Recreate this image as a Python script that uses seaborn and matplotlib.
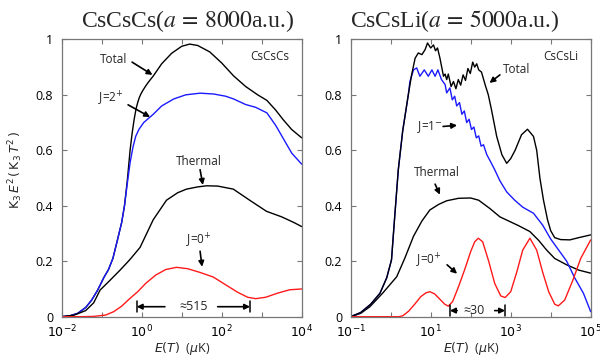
import numpy as np
import pandas as pd
import matplotlib
matplotlib.use("Agg")
import matplotlib.pyplot as plt
import seaborn as sns
from matplotlib.ticker import FixedLocator, FixedFormatter

# ---------------- data (x = log10 E in uK) ----------------
# CsCsCs panel
csc_total_logE = [-2, -1.8, -1.6, -1.4, -1.25, -1.1, -0.95, -0.83, -0.72, -0.6, -0.5, -0.43, -0.36, -0.29,
                  -0.24, -0.19, -0.14, -0.1, -0.06, -0.02, 0.03, 0.1, 0.18, 0.29, 0.5, 0.75, 1.0, 1.2, 1.4,
                  1.7, 2.0, 2.3, 2.6, 2.9, 3.13, 3.35, 3.54, 3.75, 4.0]
csc_total = [0.0, 0.003, 0.012, 0.033, 0.06, 0.096, 0.14, 0.17, 0.21, 0.28, 0.34, 0.4, 0.49, 0.6,
             0.66, 0.71, 0.75, 0.772, 0.79, 0.803, 0.816, 0.832, 0.848, 0.868, 0.912, 0.95, 0.975, 0.983,
             0.978, 0.955, 0.915, 0.868, 0.83, 0.8, 0.78, 0.745, 0.71, 0.675, 0.645]

csc_j2_logE = [-2, -1.8, -1.6, -1.4, -1.25, -1.1, -0.95, -0.83, -0.72, -0.6, -0.5, -0.43, -0.36, -0.29,
               -0.22, -0.15, -0.07, 0.05, 0.29, 0.5, 0.8, 1.1, 1.46, 1.8, 2.1, 2.3, 2.6, 2.85, 3.13, 3.35,
               3.55, 3.75, 4.0]
csc_j2 = [0.0, 0.003, 0.012, 0.033, 0.06, 0.096, 0.14, 0.17, 0.21, 0.28, 0.34, 0.4, 0.48, 0.555,
          0.61, 0.65, 0.675, 0.70, 0.73, 0.76, 0.785, 0.80, 0.806, 0.803, 0.795, 0.785, 0.765, 0.755,
          0.735, 0.69, 0.64, 0.59, 0.55]

csc_th_logE = [-2, -1.7, -1.4, -1.2, -1.04, -0.8, -0.54, -0.3, -0.04, 0.29, 0.62, 0.9, 1.12, 1.4, 1.62,
               1.9, 2.29, 2.7, 3.12, 3.5, 3.8, 4.0]
csc_th = [0.0, 0.005, 0.022, 0.05, 0.096, 0.13, 0.168, 0.205, 0.25, 0.35, 0.42, 0.447, 0.46, 0.468,
          0.472, 0.471, 0.46, 0.42, 0.38, 0.36, 0.34, 0.325]

csc_j0_logE = [-2, -1.5, -1.2, -0.9, -0.7, -0.5, -0.3, -0.1, 0.1, 0.35, 0.6, 0.87, 1.15, 1.45, 1.79,
               2.1, 2.4, 2.65, 2.85, 3.1, 3.4, 3.7, 4.0]
csc_j0 = [0.0, 0.0, 0.001, 0.006, 0.018, 0.038, 0.065, 0.09, 0.12, 0.15, 0.17, 0.178, 0.173, 0.16,
          0.143, 0.115, 0.088, 0.07, 0.065, 0.07, 0.085, 0.097, 0.1]

# CsCsLi panel
csl_total_logE = [-1, -0.75, -0.5, -0.27, -0.1, 0.02, 0.1, 0.19, 0.3, 0.44, 0.52, 0.61, 0.69, 0.78, 0.86,
                  0.92, 1.0, 1.07, 1.12, 1.17, 1.23, 1.32, 1.36, 1.4, 1.44, 1.51, 1.57, 1.63, 1.69, 1.75,
                  1.81, 1.87, 1.93, 1.99, 2.05, 2.1, 2.15, 2.2, 2.27, 2.36, 2.44, 2.52, 2.65, 2.78, 2.9,
                  3.0, 3.11, 3.27, 3.42, 3.57, 3.65, 3.73, 3.82, 3.92, 4.0, 4.1, 4.25, 4.48, 4.7, 4.85, 5.0]
csl_total = [0.0, 0.015, 0.045, 0.084, 0.14, 0.205, 0.36, 0.53, 0.67, 0.8, 0.87, 0.932, 0.951, 0.945,
             0.963, 0.987, 0.969, 0.98, 0.959, 0.969, 0.933, 0.867, 0.875, 0.855, 0.875, 0.83, 0.848,
             0.822, 0.855, 0.835, 0.872, 0.852, 0.895, 0.877, 0.918, 0.9, 0.912, 0.89, 0.882, 0.837, 0.8,
             0.746, 0.65, 0.584, 0.553, 0.57, 0.6, 0.656, 0.676, 0.65, 0.6, 0.5, 0.42, 0.35, 0.31,
             0.285, 0.278, 0.277, 0.285, 0.29, 0.295]

csl_j1_logE = [-1, -0.75, -0.5, -0.27, -0.1, 0.02, 0.1, 0.19, 0.3, 0.44, 0.48, 0.57, 0.65, 0.73, 0.84,
               0.94, 1.03, 1.11, 1.18, 1.27, 1.36, 1.4, 1.48, 1.54, 1.6, 1.65, 1.72, 1.78, 1.84, 1.9,
               1.96, 2.02, 2.08, 2.14, 2.2, 2.26, 2.32, 2.4, 2.5, 2.6, 2.73, 2.9, 3.1, 3.3, 3.57, 3.8,
               4.0, 4.2, 4.4, 4.6, 4.82, 5.0]
csl_j1 = [0.0, 0.015, 0.045, 0.084, 0.14, 0.205, 0.36, 0.53, 0.67, 0.8, 0.848, 0.89, 0.897, 0.867,
          0.89, 0.867, 0.89, 0.867, 0.89, 0.855, 0.837, 0.807, 0.825, 0.782, 0.795, 0.76, 0.772, 0.73,
          0.742, 0.70, 0.712, 0.675, 0.684, 0.645, 0.652, 0.615, 0.62, 0.585, 0.558, 0.53, 0.49, 0.45,
          0.42, 0.395, 0.373, 0.33, 0.28, 0.24, 0.2, 0.14, 0.084, 0.018]

csl_th_logE = [-1, -0.75, -0.52, -0.2, 0.15, 0.35, 0.57, 0.78, 0.98, 1.2, 1.4, 1.7, 2.0, 2.2, 2.48, 2.73,
               2.95, 3.2, 3.48, 3.7, 3.9, 4.1, 4.4, 4.7, 5.0]
csl_th = [0.0, 0.012, 0.036, 0.085, 0.144, 0.21, 0.29, 0.345, 0.385, 0.405, 0.418, 0.427, 0.428, 0.42,
          0.39, 0.36, 0.345, 0.328, 0.307, 0.275, 0.24, 0.21, 0.187, 0.168, 0.157]

csl_j0_logE = [-1, 0.2, 0.3, 0.45, 0.6, 0.75, 0.88, 0.98, 1.1, 1.25, 1.35, 1.44, 1.55, 1.7, 1.85, 2.0,
               2.1, 2.19, 2.3, 2.45, 2.6, 2.75, 2.86, 3.0, 3.15, 3.3, 3.48, 3.65, 3.8, 3.95, 4.1, 4.19,
               4.35, 4.55, 4.75, 5.0]
csl_j0 = [0.0, 0.0, 0.003, 0.02, 0.045, 0.072, 0.086, 0.09, 0.082, 0.06, 0.045, 0.038, 0.055, 0.11,
          0.17, 0.235, 0.27, 0.283, 0.27, 0.2, 0.12, 0.075, 0.069, 0.09, 0.16, 0.24, 0.283, 0.24, 0.16,
          0.09, 0.045, 0.039, 0.06, 0.13, 0.21, 0.277]

left_xticks_log = [-2, -1, 0, 1, 2, 3, 4]
right_xticks_log = [-1, 0, 1, 2, 3, 4, 5]
yticks = [0, 0.2, 0.4, 0.6, 0.8, 1.0]
ytick_labels = ["0", "0.2", "0.4", "0.6", "0.8", "1"]

# ---------------- style ----------------
sns.set_theme(style="ticks")
plt.rcParams["font.family"] = ["Open Sans", "DejaVu Sans"]
plt.rcParams["mathtext.fontset"] = "dejavusans"

fig = plt.figure(figsize=(6.0, 3.58), dpi=100)
axL = fig.add_axes([0.1028, 0.1154, 0.4, 0.7746])
axR = fig.add_axes([0.5845, 0.1154, 0.4, 0.7746])

def draw(ax, logE, vals, color):
    df = pd.DataFrame({"E": np.power(10.0, np.asarray(logE, dtype=float)), "v": vals})
    sns.lineplot(data=df, x="E", y="v", ax=ax, color=color, lw=1.0,
                 estimator=None, sort=False, legend=False)

def style(ax, xticks_log):
    ax.set_xscale("log")
    ax.set_xlim(10.0 ** xticks_log[0], 10.0 ** xticks_log[-1])
    ax.set_ylim(0, 1)
    ax.xaxis.set_major_locator(FixedLocator([10.0 ** t for t in xticks_log]))
    ax.xaxis.set_major_formatter(FixedFormatter(
        [r"$10^{%d}$" % t if i % 2 == 0 else "" for i, t in enumerate(xticks_log)]))
    ax.xaxis.set_minor_locator(FixedLocator([]))
    ax.yaxis.set_major_locator(FixedLocator(yticks))
    ax.yaxis.set_major_formatter(FixedFormatter(ytick_labels))
    ax.tick_params(direction="in", top=True, right=True, length=3.5, width=0.8,
                   color="#777777", labelsize=9, labelcolor="black")
    ax.tick_params(axis="x", pad=5)
    ax.tick_params(axis="y", pad=6)
    for s in ax.spines.values():
        s.set_color("#777777")
        s.set_linewidth(0.9)
    ax.set_xlabel(r"$E(T)$  ($\mu$K)", fontsize=9, labelpad=0)
    ax.set_ylabel("")

for ax in (axL, axR):
    ax.set_xscale("log")

draw(axL, csc_total_logE, csc_total, "black")
draw(axL, csc_j2_logE, csc_j2, "#1a1aff")
draw(axL, csc_th_logE, csc_th, "black")
draw(axL, csc_j0_logE, csc_j0, "#ff1a1a")

draw(axR, csl_th_logE, csl_th, "black")
draw(axR, csl_j1_logE, csl_j1, "#1a1aff")
draw(axR, csl_total_logE, csl_total, "black")
draw(axR, csl_j0_logE, csl_j0, "#ff1a1a")

style(axL, left_xticks_log)
style(axR, right_xticks_log)

axL.set_ylabel(r"$\mathrm{K}_3\,E^2\,(\,\mathrm{K}_3\,T^2\,)$", fontsize=9, va="center")
axL.yaxis.set_label_coords(-0.19, 0.53)

# ---------------- annotations ----------------
arr = dict(arrowstyle="-|>", color="black", lw=1.2, mutation_scale=8, shrinkA=0, shrinkB=0)
fs = 8.5

def note(ax, text, txy, tail, head):
    ax.text(10 ** txy[0], txy[1], text, fontsize=fs, ha="center", va="center")
    if tail is not None:
        ax.annotate("", xy=(10 ** head[0], head[1]), xytext=(10 ** tail[0], tail[1]), arrowprops=arr)

note(axL, "CsCsCs", (3.2, 0.937), None, None)
note(axL, "Total", (-0.7, 0.927), (-0.24, 0.918), (0.27, 0.872))
note(axL, r"J=2$^{+}$", (-0.76, 0.785), (-0.34, 0.764), (0.21, 0.72))
note(axL, "Thermal", (1.42, 0.558), (1.46, 0.53), (1.53, 0.475))
note(axL, r"J=0$^{+}$", (1.43, 0.275), (1.46, 0.236), (1.51, 0.18))

note(axR, "CsCsLi", (4.26, 0.937), None, None)
note(axR, "Total", (3.15, 0.89), (2.73, 0.872), (2.47, 0.843))
note(axR, r"J=1$^{-}$", (0.98, 0.685), (1.31, 0.686), (1.66, 0.69))
note(axR, "Thermal", (1.15, 0.519), (1.11, 0.478), (1.23, 0.44))
note(axR, r"J=0$^{+}$", (0.96, 0.2), (1.41, 0.187), (1.66, 0.155))

def span(ax, x0, x1, y, text, tx, a0, a1):
    ax.plot([10 ** x0, 10 ** x0], [y - 0.02, y + 0.02], color="black", lw=1.1)
    ax.plot([10 ** x1, 10 ** x1], [y - 0.02, y + 0.02], color="black", lw=1.1)
    ax.annotate("", xy=(10 ** x0, y), xytext=(10 ** a0, y), arrowprops=arr)
    ax.annotate("", xy=(10 ** x1, y), xytext=(10 ** a1, y), arrowprops=arr)
    ax.text(10 ** tx, y, text, fontsize=fs + 0.5, ha="center", va="center")

span(axL, -0.125, 2.71, 0.036, "≈515", 1.3, 0.58, 1.9)
span(axR, 1.48, 2.86, 0.022, "≈30", 2.07, 1.66, 2.6)

# ---------------- titles ----------------
fig.text(0.313, 0.925, r"CsCsCs($a\,=\,8000$a.u.)", fontsize=17, family="Liberation Serif",
         ha="center", va="baseline", math_fontfamily="stix")
fig.text(0.758, 0.925, r"CsCsLi($a\,=\,5000$a.u.)", fontsize=17, family="Liberation Serif",
         ha="center", va="baseline", math_fontfamily="stix")

fig.savefig("out.png", dpi=100)
